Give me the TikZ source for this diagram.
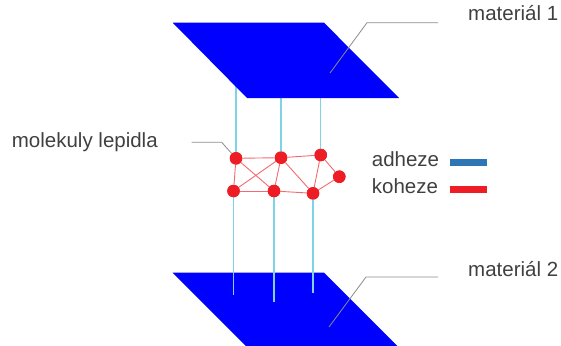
\documentclass[tikz,border=0pt]{standalone}
\usepackage{fontspec}
\setmainfont{Liberation Sans}
\definecolor{txtgray}{HTML}{404040}
\definecolor{leadgray}{HTML}{8C8C8C}
\definecolor{planeblue}{HTML}{0000FF}
\definecolor{molred}{HTML}{EE1C25}
\definecolor{edgered}{HTML}{F26A6F}
\definecolor{fibercyan}{HTML}{7FD3E6}
\definecolor{adhblue}{HTML}{2E75B6}
\begin{document}
\begin{tikzpicture}[x=1pt,y=-1pt,
  mol/.style={circle,fill=molred,inner sep=0pt,minimum size=12.5pt},
  bond/.style={edgered,line width=0.9pt},
  fiber/.style={fibercyan,line width=1.2pt},
  plane/.style={fill=planeblue,draw=none},
  leader/.style={leadgray,line width=0.8pt},
  lbl/.style={anchor=base west,inner sep=0pt,text=txtgray,font=\fontsize{20.5}{24}\selectfont},
  legbar/.style={minimum width=37pt,minimum height=7.5pt,inner sep=0pt,draw=none}]
\useasboundingbox (0,0) rectangle (561,345);
\clip (0,0) rectangle (561,345);
% molecules
\node[mol] (A) at (236,158.3) {};
\node[mol] (B) at (281,157.7) {};
\node[mol] (C) at (320.7,155) {};
\node[mol] (D) at (339.3,176.7) {};
\node[mol] (E) at (233.5,191) {};
\node[mol] (F) at (274,191) {};
\node[mol] (G) at (313,193.3) {};
% fiber ends
\coordinate (tA) at (236,70);
\coordinate (tB) at (281,70);
\coordinate (tC) at (320.7,70);
\coordinate (bE) at (233.5,295);
\coordinate (bF) at (274,301.7);
\coordinate (bG) at (313,293);
% top fibers (behind plane)
\draw[fiber] (A.center) -- (tA);
\draw[fiber] (B.center) -- (tB);
\draw[fiber] (C.center) -- (tC);
% planes
\path[plane] (172.7,22.7) -- (324,22.7) -- (399,98) -- (247,98) -- cycle;
\path[plane] (172.7,272.7) -- (324,272.7) -- (411.3,360) -- (260,360) -- cycle;
% bottom fibers
\draw[fiber] (E.center) -- (bE);
\draw[fiber] (F.center) -- (bF);
\draw[fiber] (G.center) -- (bG);
% bonds
\draw[bond] (A) -- (B);
\draw[bond] (B) -- (C);
\draw[bond] (C) -- (D);
\draw[bond] (D) -- (G);
\draw[bond] (G) -- (F);
\draw[bond] (F) -- (E);
\draw[bond] (E) -- (A);
\draw[bond] (A) -- (F);
\draw[bond] (E) -- (B);
\draw[bond] (B) -- (F);
\draw[bond] (B) -- (G);
\draw[bond] (C) -- (G);
% redraw molecules on top
\foreach \n in {A,B,C,D,E,F,G} \fill[molred] (\n) circle (6.25pt);
% labels
\node[lbl] (m1) at (468,20.7) {materiál 1};
\node[lbl] (m2) at (468,276) {materiál 2};
\node[lbl] (ml) at (11.7,147.3) {molekuly lepidla};
\node[lbl] (ad) at (371.7,166.7) {adheze};
\node[lbl] (ko) at (371.7,193.5) {koheze};
\node[legbar,fill=adhblue] (adb) at (468.5,162.5) {};
\node[legbar,fill=molred] (kob) at (468.5,189.5) {};
% leaders
\coordinate (l1a) at (330,73);
\coordinate (l1b) at (367,22.7);
\coordinate (l1c) at (438,22.7);
\draw[leader] (l1a) -- (l1b) -- (l1c);
\coordinate (l2a) at (329,327);
\coordinate (l2b) at (366,277);
\coordinate (l2c) at (438,277);
\draw[leader] (l2a) -- (l2b) -- (l2c);
\coordinate (l3a) at (191.7,142.3);
\coordinate (l3b) at (221.7,142.3);
\draw[leader] (l3a) -- (l3b) -- (A);
\end{tikzpicture}
\end{document}
